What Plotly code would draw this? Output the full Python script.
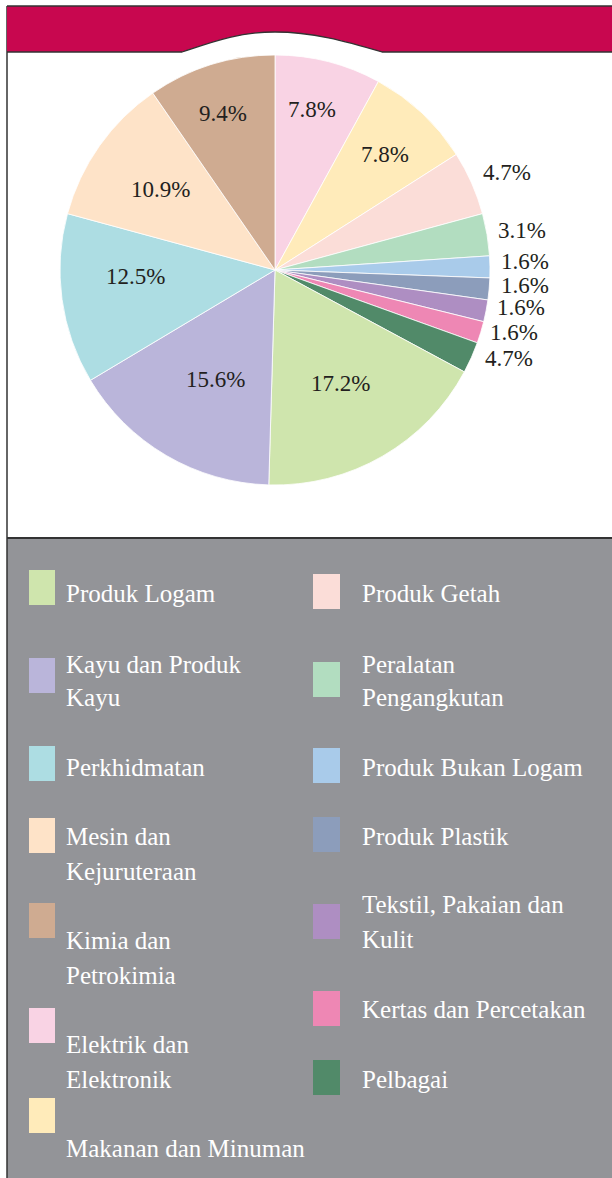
import math
import plotly.graph_objects as go

# ---------------- data ----------------
categories = [
    "Elektrik dan Elektronik", "Makanan dan Minuman", "Produk Getah",
    "Peralatan Pengangkutan", "Produk Bukan Logam", "Produk Plastik",
    "Tekstil, Pakaian dan Kulit", "Kertas dan Percetakan", "Pelbagai",
    "Produk Logam", "Kayu dan Produk Kayu", "Perkhidmatan",
    "Mesin dan Kejuruteraan", "Kimia dan Petrokimia",
]
# slice sizes
values = [7.8, 7.8, 4.7, 3.1, 1.6, 1.6, 1.6, 1.6, 2.3, 17.2, 15.6, 12.5, 10.9, 9.4]
# percentage labels as printed
pct_labels = ["7.8%", "7.8%", "4.7%", "3.1%", "1.6%", "1.6%", "1.6%", "1.6%", "4.7%",
              "17.2%", "15.6%", "12.5%", "10.9%", "9.4%"]
colors = ["#F9D3E4", "#FFEBBA", "#FBDDD8", "#B2DDC0", "#A9CBEA", "#8C9DBB",
          "#AE8EC2", "#EE87B4", "#518A69", "#CFE5AD", "#BAB5DA", "#ADDDE3",
          "#FEE3C8", "#CFAB91"]

# legend text (as printed, with line breaks)
legend_col1 = ["Produk Logam", "Kayu dan Produk\nKayu", "Perkhidmatan",
               "Mesin dan\nKejuruteraan", "Kimia dan\nPetrokimia",
               "Elektrik dan\nElektronik", "Makanan dan Minuman"]
legend_col2 = ["Produk Getah", "Peralatan\nPengangkutan", "Produk Bukan Logam",
               "Produk Plastik", "Tekstil, Pakaian dan\nKulit",
               "Kertas dan Percetakan", "Pelbagai"]

# ---------------- layout constants (pixels) ----------------
W, H = 612, 1178
FONT = "Liberation Serif"
CRIMSON = "#C8074F"
GREY = "#939498"
EDGE = "#333333"

# pie placement (pixels)
CX, CY, R = 275, 270, 215
# radial distance of each percentage label (fraction of radius) and angular nudge (deg)
label_r = [0.765, 0.74, 1.17, 1.165, 1.165, 1.165, 1.16, 1.15, 1.165,
           0.61, 0.58, 0.65, 0.65, 0.765]
label_nudge = [-1.5, 0.5, 1.0, 0.3, -1.2, -1.5, -2.2, -2.2, -3.3,
               0.0, -2.0, 5.0, 0.0, -1.0]


def px(x):
    return x / W


def py(y):
    return 1 - y / H


# legend geometry: (square top, [baselines])
col1_geom = [(570, [601]), (658, [672, 705]), (746, [775]), (818, [844, 879]),
             (903, [948, 983]), (1008, [1052, 1087]), (1098, [1156])]
col2_geom = [(574, [601]), (662, [672, 705]), (748, [775]), (817, [844]),
             (904, [912, 947]), (991, [1017]), (1060, [1087])]
col1_x = (29, 55, 64)
col2_x = (313, 340, 360)

color_of = dict(zip(categories, colors))

fig = go.Figure()
fig.add_trace(go.Pie(
    labels=categories, values=values, text=pct_labels,
    textinfo="none",
    sort=False, direction="clockwise", rotation=0,
    marker=dict(colors=colors, line=dict(color="white", width=0.8)),
    showlegend=False, hoverinfo="label+text",
    domain=dict(x=[px(CX - R), px(CX + R)], y=[py(CY + R), py(CY - R)]),
))

shapes = []
annotations = []

# percentage labels placed at each slice's mid-angle
total = sum(values)
cum = 0.0
for v, lab, rf, nd in zip(values, pct_labels, label_r, label_nudge):
    mid = (cum + v / 2) / total * 2 * math.pi + math.radians(nd)
    cum += v
    lx = CX + rf * R * math.sin(mid)
    ly = CY - rf * R * math.cos(mid)
    annotations.append(dict(xref="paper", yref="paper", x=px(lx), y=py(ly),
                            xanchor="center", yanchor="middle", showarrow=False,
                            text=lab, borderpad=0,
                            font=dict(family=FONT, size=23, color="#231F20")))

# grey legend panel
shapes.append(dict(type="rect", xref="paper", yref="paper",
                   x0=px(7), x1=px(W + 5), y0=py(H + 5), y1=py(538),
                   fillcolor=GREY, line=dict(width=0), layer="below"))
# separator line
shapes.append(dict(type="line", xref="paper", yref="paper",
                   x0=px(7), x1=px(W + 5), y0=py(538), y1=py(538),
                   line=dict(color=EDGE, width=2)))
# left border
shapes.append(dict(type="line", xref="paper", yref="paper",
                   x0=px(7), x1=px(7), y0=py(6), y1=py(H + 5),
                   line=dict(color=EDGE, width=1.5)))


def P(x, y):
    return f"{px(x):.5f},{py(y):.5f}"


curve = (f"L {P(382, 52)} C {P(345, 41)} {P(312, 32)} {P(275, 32)} "
         f"C {P(238, 32)} {P(212, 42)} {P(182, 52)} ")
header_path = f"M {P(7, 6)} L {P(W + 5, 6)} L {P(W + 5, 52)} " + curve + f"L {P(7, 52)} Z"
shapes.append(dict(type="path", xref="paper", yref="paper", path=header_path,
                   fillcolor=CRIMSON, line=dict(width=0)))
outline = f"M {P(W + 5, 52)} " + curve + f"L {P(7, 52)}"
shapes.append(dict(type="path", xref="paper", yref="paper", path=outline,
                   line=dict(color=EDGE, width=1.3)))
shapes.append(dict(type="line", xref="paper", yref="paper",
                   x0=px(7), x1=px(W + 5), y0=py(6), y1=py(6),
                   line=dict(color=EDGE, width=1.5)))


def add_legend(col_labels, geom, xs):
    sx0, sx1, tx = xs
    for lab, (sq_top, baselines) in zip(col_labels, geom):
        full = lab.replace("\n", " ")
        shapes.append(dict(type="rect", xref="paper", yref="paper",
                           x0=px(sx0), x1=px(sx1), y0=py(sq_top + 35), y1=py(sq_top),
                           fillcolor=color_of[full], line=dict(width=0)))
        for line_txt, base in zip(lab.split("\n"), baselines):
            annotations.append(dict(xref="paper", yref="paper", x=px(tx), y=py(base - 8),
                                    xanchor="left", yanchor="middle", showarrow=False,
                                    text=line_txt,
                                    font=dict(family=FONT, size=25, color="white")))


add_legend(legend_col1, col1_geom, col1_x)
add_legend(legend_col2, col2_geom, col2_x)

fig.update_layout(
    width=W, height=H,
    margin=dict(l=0, r=0, t=0, b=0),
    paper_bgcolor="white", plot_bgcolor="white",
    shapes=shapes, annotations=annotations,
    font=dict(family=FONT),
)

fig.write_html("out.html", config={"displayModeBar": False},
               post_script="document.body.style.margin='0';document.body.style.overflow='hidden';")
